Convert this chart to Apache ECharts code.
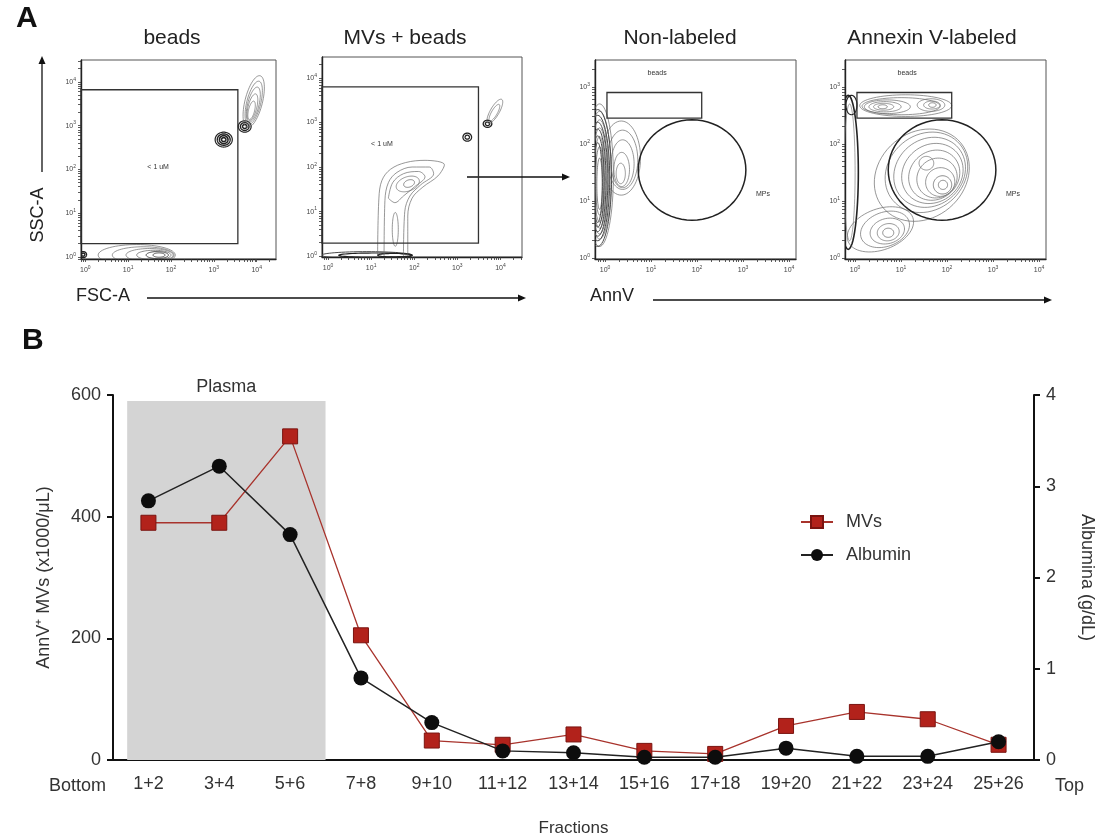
<!DOCTYPE html>
<html><head><meta charset="utf-8">
<script src="https://cdn.jsdelivr.net/npm/echarts@6/dist/echarts.min.js"></script>
<style>html,body{margin:0;padding:0;background:#fff}#main{width:1104px;height:839px}</style>
</head><body><div id="main"></div>
<script>
// ---------- Panel B data ----------
const categories = ['1+2','3+4','5+6','7+8','9+10','11+12','13+14','15+16','17+18','19+20','21+22','23+24','25+26'];
const mvs = [390, 390, 532, 205, 32, 25, 42, 15, 10, 56, 79, 67, 25];
const albumin = [2.84, 3.22, 2.47, 0.9, 0.41, 0.1, 0.08, 0.03, 0.03, 0.13, 0.04, 0.04, 0.2];
const plasmaRegion = [[-0.3, 2.5, 590]];          // [from index, to index, top value]
const endLabels = ['Bottom', 'Top'];
const endPositions = [[-1], [13]];

// ---------- Panel A data (log10 decades) ----------
// axis extents per plot: [xmin, xmax, ymin, ymax]
const flowExtents = [[-0.1, 4.45, -0.05, 4.5], [-0.14, 4.5, -0.02, 4.47], [-0.22, 4.15, -0.02, 3.47], [-0.22, 4.15, -0.02, 3.47]];
const flowXMajor = [[0,1,2,3,4],[0,1,2,3,4],[0,1,2,3,4],[0,1,2,3,4]];
const flowYMajor = [[0,1,2,3,4],[0,1,2,3,4],[0,1,2,3],[0,1,2,3]];
// gates: [x0, y0, x1, y1]
const gateRects = [[[-0.1, 0.3, 3.56, 3.82]], [[-0.14, 0.29, 3.49, 3.8]], [[0.04, 2.45, 2.1, 2.9]], [[0.04, 2.45, 2.1, 2.9]]];
// gate ellipses: [cx, cy, rx, ry, rot, lw]
const gateEllipses = [[], [], [[1.89, 1.54, 1.17, 0.88, 0, 1.5]], [[1.89, 1.54, 1.17, 0.88, 0, 1.5]]];
const gateLabelPos = [[[1.7, 2.05]], [[1.25, 2.52]], [[1.13, 3.24], [3.43, 1.12]], [[1.13, 3.24], [3.43, 1.12]]];
const gateLabelText = [['< 1 uM'], ['< 1 uM'], ['beads', 'MPs'], ['beads', 'MPs']];
// contour ellipses: [cx, cy, rx, ry, rotDeg, lineWidth]
const contours1 = [
  [3.23,2.68,0.2,0.17,0,1.2],[3.23,2.68,0.15,0.13,0,1.4],[3.23,2.68,0.1,0.09,0,1.6],[3.23,2.68,0.05,0.045,0,1.6],
  [3.72,2.98,0.15,0.13,0,1.2],[3.72,2.98,0.1,0.09,0,1.4],[3.72,2.98,0.05,0.045,0,1.5],
  [3.93,3.55,0.62,0.2,76,0.7],[3.93,3.52,0.52,0.16,76,0.7],[3.92,3.48,0.42,0.13,76,0.7],[3.9,3.42,0.32,0.1,76,0.7],[3.88,3.35,0.22,0.07,76,0.7],
  [1.2,0.04,0.9,0.24,0,0.7],[1.35,0.04,0.72,0.19,0,0.7],[1.5,0.04,0.55,0.15,0,0.7],[1.6,0.04,0.4,0.11,0,0.8],[1.68,0.04,0.26,0.08,0,1.0],[1.72,0.04,0.14,0.05,0,1.0],
  [-0.05,0.05,0.08,0.07,0,1.3],[-0.05,0.05,0.04,0.035,0,1.5]
];
const contours2 = [
  [3.23,2.67,0.1,0.09,0,1.3],[3.23,2.67,0.05,0.045,0,1.3],[3.7,2.97,0.1,0.08,0,1.3],[3.7,2.97,0.05,0.04,0,1.3],
  [3.87,3.25,0.32,0.1,60,0.7],[3.86,3.22,0.22,0.065,60,0.7],
  [1.85,1.62,0.28,0.16,20,0.7],[1.88,1.63,0.13,0.08,20,0.8],[1.56,0.6,0.07,0.38,0,0.7],
  [0.9,0.02,1.05,0.08,0,1.0],[1.1,0.02,0.85,0.05,0,1.2],[1.55,0.02,0.4,0.04,0,1.2]
];
const plume2 = [
  [[1.15,0.0],[1.18,1.3],[1.25,1.7],[1.45,1.95],[1.8,2.1],[2.25,2.15],[2.7,2.05],[2.55,1.8],[2.2,1.55],[1.95,1.3],[1.85,0.9],[1.85,0.0]],
  [[1.3,0.0],[1.32,1.25],[1.4,1.65],[1.6,1.88],[1.95,2.0],[2.35,2.0],[2.45,1.85],[2.15,1.6],[1.9,1.35],[1.78,1.0],[1.75,0.0]],
  [[1.4,1.3],[1.5,1.65],[1.75,1.85],[2.1,1.9],[2.25,1.78],[2.0,1.55],[1.75,1.35],[1.55,1.2],[1.4,1.3]]
];
const contours3 = [
  [-0.12,1.45,0.3,1.25,0,0.7],[-0.12,1.45,0.25,1.12,0,0.7],[-0.12,1.42,0.2,1.0,0,0.7],[-0.12,1.4,0.16,0.88,0,0.7],
  [-0.12,1.38,0.12,0.75,0,0.7],[-0.12,1.35,0.09,0.6,0,0.8],[-0.12,1.3,0.06,0.45,0,0.8],
  [-0.16,1.4,0.3,1.2,0,1.0],[-0.16,1.4,0.26,1.1,0,1.0],[-0.16,1.38,0.22,1.0,0,1.0],[-0.16,1.36,0.18,0.9,0,1.0],
  [-0.16,1.34,0.14,0.8,0,1.0],[-0.16,1.32,0.1,0.7,0,1.0],
  [0.35,1.75,0.42,0.65,0,0.7],[0.38,1.72,0.33,0.52,0,0.7],[0.38,1.65,0.25,0.42,0,0.7],[0.36,1.55,0.17,0.3,0,0.7],[0.34,1.48,0.1,0.18,0,0.7]
];
const contours4 = [
  [1.1,2.67,1.0,0.19,0,0.7],[1.0,2.66,0.85,0.15,0,0.7],[0.7,2.65,0.5,0.12,0,0.7],[0.65,2.65,0.35,0.09,0,0.7],
  [0.62,2.65,0.22,0.06,0,0.7],[0.6,2.65,0.1,0.035,0,0.8],[1.65,2.68,0.3,0.11,0,0.7],[1.67,2.68,0.18,0.07,0,0.7],[1.68,2.68,0.08,0.04,0,0.8],
  [-0.15,1.5,0.22,1.35,0,1.6],[-0.12,1.5,0.12,1.2,0,0.6],[-0.08,2.68,0.12,0.17,0,1.2],
  [1.45,1.45,1.1,0.75,40,0.7],[1.55,1.5,0.95,0.66,40,0.7],[1.62,1.5,0.82,0.58,40,0.7],[1.68,1.48,0.7,0.5,40,0.7],
  [1.72,1.45,0.58,0.42,40,0.7],[1.78,1.4,0.45,0.34,40,0.7],[1.85,1.33,0.32,0.25,30,0.7],[1.9,1.28,0.2,0.16,20,0.8],
  [1.91,1.28,0.1,0.08,0,0.8],[1.55,1.66,0.16,0.12,0,0.7],
  [0.72,0.44,0.12,0.08,0,0.8],[0.72,0.45,0.24,0.15,10,0.7],[0.7,0.47,0.38,0.22,15,0.7],[0.65,0.5,0.55,0.3,20,0.7],[0.55,0.5,0.75,0.36,20,0.7]
];
const flowContours = [contours1, contours2, contours3, contours4];
const flowTitles = ['beads', 'MVs + beads', 'Non-labeled', 'Annexin V-labeled'];

const FONT = '"Liberation Sans", Arial, Helvetica, sans-serif';
const flowGrids = [
  {left: 81, top: 60, width: 195, height: 199},
  {left: 322, top: 57, width: 200, height: 200},
  {left: 595, top: 60, width: 201, height: 199},
  {left: 845, top: 60, width: 201, height: 199}
];

function logTicks(min, max) {
  const out = [];
  for (let d = Math.floor(min) - 1; d <= Math.ceil(max); d++)
    for (let k = 1; k <= 9; k++) { const v = d + Math.log10(k); if (v >= min && v <= max) out.push(v); }
  return out;
}
const powRich = {
  a: {fontSize: 7, color: '#444', fontFamily: FONT},
  b: {fontSize: 5, color: '#444', fontFamily: FONT, verticalAlign: 'top', padding: [0, 0, 5, 0]}
};
const powFmt = v => '{a|10}{b|' + Math.round(v) + '}';

function strokeFor(lw) { return lw >= 1.2 ? '#222' : (lw >= 1.0 ? '#4a4a4a' : '#6a6a6a'); }
function ellipseRender(params, api) {
  const c = api.coord([api.value(0), api.value(1)]);
  const s = api.size([api.value(2), api.value(3)]);
  const rot = api.value(4) * Math.PI / 180;
  const lw = api.value(5);
  const pts = [];
  for (let i = 0; i <= 64; i++) {
    const t = i / 64 * 2 * Math.PI;
    const ex = s[0] * Math.cos(t), ey = s[1] * Math.sin(t);
    pts.push([c[0] + ex * Math.cos(rot) + ey * Math.sin(rot), c[1] - ex * Math.sin(rot) + ey * Math.cos(rot)]);
  }
  return {type: 'polygon', shape: {points: pts},
    style: {fill: 'none', stroke: strokeFor(lw), lineWidth: Math.min(lw, 1.6)}};
}
function rectRender(params, api) {
  const p0 = api.coord([api.value(0), api.value(3)]);
  const p1 = api.coord([api.value(2), api.value(1)]);
  return {type: 'rect', shape: {x: p0[0], y: p0[1], width: p1[0] - p0[0], height: p1[1] - p0[1]},
    style: {fill: 'none', stroke: '#333', lineWidth: 1.3}};
}

const grids = [], xAxes = [], yAxes = [], series = [];
flowGrids.forEach((g, i) => {
  const [x0, x1, y0, y1] = flowExtents[i];
  grids.push(Object.assign({show: true, borderColor: '#555', borderWidth: 1, backgroundColor: 'transparent'}, g));
  xAxes.push({type: 'value', gridIndex: i, min: x0, max: x1,
    axisLine: {onZero: false, lineStyle: {color: '#222', width: 1.4}}, splitLine: {show: false},
    axisTick: {customValues: logTicks(x0, x1), length: 3, lineStyle: {color: '#333', width: 0.8}},
    axisLabel: {customValues: flowXMajor[i], formatter: powFmt, rich: powRich, margin: 6}});
  yAxes.push({type: 'value', gridIndex: i, min: y0, max: y1,
    axisLine: {onZero: false, lineStyle: {color: '#222', width: 1.4}}, splitLine: {show: false},
    axisTick: {customValues: logTicks(y0, y1), length: 3, lineStyle: {color: '#333', width: 0.8}},
    axisLabel: {customValues: flowYMajor[i], formatter: powFmt, rich: powRich, margin: 5}});
  series.push({type: 'custom', xAxisIndex: i, yAxisIndex: i, clip: true, silent: true,
    renderItem: ellipseRender, data: flowContours[i], z: 2});
  series.push({type: 'custom', xAxisIndex: i, yAxisIndex: i, clip: false, silent: true,
    renderItem: rectRender, data: gateRects[i], z: 3});
  if (gateEllipses[i].length)
    series.push({type: 'custom', xAxisIndex: i, yAxisIndex: i, clip: false, silent: true,
      renderItem: (p, api) => { const e = ellipseRender(p, api); e.style.stroke = '#222'; return e; },
      data: gateEllipses[i], z: 3});
  series.push({type: 'custom', xAxisIndex: i, yAxisIndex: i, clip: false, silent: true,
    renderItem: (p, api) => {
      const c = api.coord([api.value(0), api.value(1)]);
      return {type: 'text', x: c[0], y: c[1], style: {text: gateLabelText[i][p.dataIndex], fontSize: 7,
        fontFamily: FONT, fill: '#333', align: 'center', verticalAlign: 'middle'}};
    }, data: gateLabelPos[i], z: 4});
});
plume2.forEach(line => series.push({type: 'line', xAxisIndex: 1, yAxisIndex: 1, data: line, showSymbol: false,
  smooth: 0.35, silent: true, clip: true, lineStyle: {color: '#6a6a6a', width: 0.7}, z: 2}));

// ---------- Panel B ----------
grids.push({left: 113, top: 395, width: 922, height: 365, show: false});
xAxes.push({type: 'category', gridIndex: 4, data: categories, boundaryGap: true,
  axisLine: {onZero: false, lineStyle: {color: '#111', width: 2}},
  axisTick: {alignWithLabel: true, length: 6, lineStyle: {color: '#111', width: 2}},
  axisLabel: {fontSize: 18, color: '#333', margin: 15, fontFamily: FONT},
  name: 'Fractions', nameLocation: 'middle', nameGap: 60,
  nameTextStyle: {fontSize: 17, color: '#333', fontFamily: FONT}});
xAxes.push({type: 'value', gridIndex: 4, min: -0.5, max: 12.5, show: false});
yAxes.push({type: 'value', gridIndex: 4, min: 0, max: 600, interval: 200, position: 'left',
  axisLine: {show: true, onZero: false, lineStyle: {color: '#111', width: 2}},
  axisTick: {show: true, length: 6, lineStyle: {color: '#111', width: 2}},
  axisLabel: {fontSize: 18, color: '#333', margin: 12, fontFamily: FONT}, splitLine: {show: false},
  name: 'AnnV\u207A MVs (x1000/\u03BCL)', nameLocation: 'middle', nameGap: 60, nameRotate: 90,
  nameTextStyle: {fontSize: 18, color: '#333', fontFamily: FONT}, z: 5});
yAxes.push({type: 'value', gridIndex: 4, min: 0, max: 4, interval: 1, position: 'right',
  axisLine: {show: true, onZero: false, lineStyle: {color: '#111', width: 2}},
  axisTick: {show: true, length: 6, lineStyle: {color: '#111', width: 2}},
  axisLabel: {fontSize: 18, color: '#333', margin: 12, fontFamily: FONT}, splitLine: {show: false},
  name: 'Albumina (g/dL)', nameLocation: 'middle', nameGap: 44, nameRotate: -90,
  nameTextStyle: {fontSize: 18, color: '#333', fontFamily: FONT}, z: 5});

series.push({type: 'custom', xAxisIndex: 5, yAxisIndex: 4, silent: true, clip: false, z: 1, data: plasmaRegion,
  renderItem: (p, api) => {
    const a = api.coord([api.value(0), api.value(2)]);
    const b = api.coord([api.value(1), 0]);
    return {type: 'group', children: [
      {type: 'rect', shape: {x: a[0], y: a[1], width: b[0] - a[0], height: b[1] - a[1]}, style: {fill: '#d4d4d4'}},
      {type: 'text', x: (a[0] + b[0]) / 2, y: a[1] - 14, style: {text: 'Plasma', fontSize: 18, fontFamily: FONT,
        fill: '#333', align: 'center', verticalAlign: 'middle'}}
    ]};
  }});
series.push({type: 'custom', xAxisIndex: 5, yAxisIndex: 4, silent: true, clip: false, z: 1, data: endPositions,
  renderItem: (p, api) => {
    const c = api.coord([api.value(0), 0]);
    return {type: 'text', x: c[0], y: c[1] + 26, style: {text: endLabels[p.dataIndex], fontSize: 18,
      fontFamily: FONT, fill: '#333', align: 'center', verticalAlign: 'middle'}};
  }});
series.push({name: 'MVs', type: 'line', xAxisIndex: 4, yAxisIndex: 4, data: mvs, symbol: 'rect', symbolSize: 15,
  itemStyle: {color: '#b2221b', borderColor: '#7a1410', borderWidth: 1},
  lineStyle: {color: '#a8332c', width: 1.3}, z: 3});
series.push({name: 'Albumin', type: 'line', xAxisIndex: 4, yAxisIndex: 5, data: albumin, symbol: 'circle', symbolSize: 15,
  itemStyle: {color: '#0d0d0d'}, lineStyle: {color: '#222', width: 1.5}, z: 4});

// ---------- decorations ----------
function arrow(x1, y1, x2, y2) {
  const ang = Math.atan2(y2 - y1, x2 - x1), L = 8, W = 3.5;
  const bx = x2 - L * Math.cos(ang), by = y2 - L * Math.sin(ang);
  return [
    {type: 'line', shape: {x1, y1, x2: bx, y2: by}, style: {stroke: '#111', lineWidth: 1.3}},
    {type: 'polygon', shape: {points: [[x2, y2], [bx - W * Math.sin(ang), by + W * Math.cos(ang)], [bx + W * Math.sin(ang), by - W * Math.cos(ang)]]},
      style: {fill: '#111'}}
  ];
}
const titleX = [172, 405, 680, 932];
const graphics = [
  {type: 'text', left: 16, top: 4, style: {text: 'A', fontSize: 30, fontWeight: 'bold', fontFamily: FONT, fill: '#111'}},
  {type: 'text', left: 22, top: 326, style: {text: 'B', fontSize: 30, fontWeight: 'bold', fontFamily: FONT, fill: '#111'}},
  ...flowTitles.map((t, i) => ({type: 'text', x: titleX[i], y: 38, style: {text: t, fontSize: 21, fontFamily: FONT,
    fill: '#222', align: 'center', verticalAlign: 'middle'}})),
  {type: 'text', x: 38, y: 215, rotation: Math.PI / 2, style: {text: 'SSC-A', fontSize: 18, fontFamily: FONT, fill: '#222', align: 'center', verticalAlign: 'middle'}},
  {type: 'text', x: 103, y: 296, style: {text: 'FSC-A', fontSize: 18, fontFamily: FONT, fill: '#222', align: 'center', verticalAlign: 'middle'}},
  {type: 'text', x: 612, y: 296, style: {text: 'AnnV', fontSize: 18, fontFamily: FONT, fill: '#222', align: 'center', verticalAlign: 'middle'}},
  ...arrow(42, 172, 42, 56),
  ...arrow(147, 298, 526, 298),
  ...arrow(653, 300, 1052, 300),
  ...arrow(467, 177, 570, 177)
];

const chart = echarts.init(document.getElementById('main'), null, {renderer: 'canvas'});
chart.setOption({
  animation: false,
  backgroundColor: '#fff',
  textStyle: {fontFamily: FONT},
  grid: grids, xAxis: xAxes, yAxis: yAxes, series,
  legend: {data: ['MVs', 'Albumin'], orient: 'vertical', left: 795, top: 508, itemWidth: 32, itemHeight: 15, itemGap: 15,
    textStyle: {fontSize: 18, color: '#333', fontFamily: FONT, padding: [0, 0, 0, 8]}},
  graphic: graphics
});
</script></body></html>
